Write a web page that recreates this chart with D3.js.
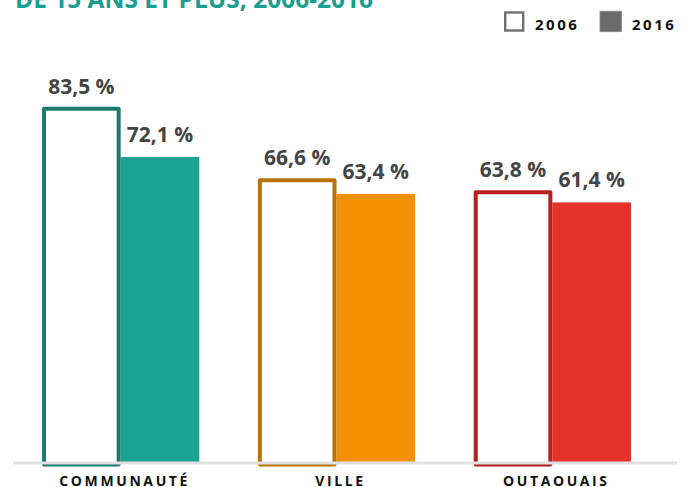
<!DOCTYPE html>
<html>
<head>
<meta charset="utf-8">
<script src="https://cdn.jsdelivr.net/npm/d3@7"></script>
<style>
  html, body { margin: 0; padding: 0; background: #ffffff; }
  svg { display: block; }
</style>
</head>
<body>
<svg id="chart" width="692" height="487"></svg>
<script>
// ---- Data ----
const titleText = "DE 15 ANS ET PLUS, 2006-2016";
const categories = ["COMMUNAUTÉ", "VILLE", "OUTAOUAIS"];
const series = ["2006", "2016"];
const values2006 = [83.5, 66.6, 63.8];
const values2016 = [72.1, 63.4, 61.4];

// ---- Styles ----
const fillColors = ["#1ba292", "#f29100", "#e5332a"];
const strokeColors = ["#1b7b70", "#b97206", "#b91e1e"];
const labelColor = "#444444";

const svg = d3.select("#chart");

const locale = d3.formatLocale({ decimal: ",", thousands: " ", grouping: [3], currency: ["", " $"] });
const fmt = v => locale.format(".1f")(v) + " %";

const y = d3.scaleLinear().domain([0, 100]).range([463, 38.6]);
const x0 = d3.scaleBand().domain(categories).range([12.75, 660.25])
  .paddingInner(0.2715).paddingOuter(0.1357);
const x1 = d3.scaleBand().domain(series).range([0, x0.bandwidth()]);

// Title (partially visible)
svg.append("text")
  .attr("x", 15).attr("y", 8)
  .attr("font-family", "Open Sans, sans-serif")
  .attr("font-weight", 700)
  .attr("font-size", 24.5)
  .attr("fill", "#1a9e8f")
  .text(titleText);

const rows = categories.map((c, i) => ({ cat: c, i, v2006: values2006[i], v2016: values2016[i] }));

const g = svg.append("g");

// Filled 2016 bars
g.selectAll("rect.b2016").data(rows).join("rect")
  .attr("class", "b2016")
  .attr("x", d => x0(d.cat) + x1("2016"))
  .attr("width", x1.bandwidth())
  .attr("y", d => y(d.v2016))
  .attr("height", d => y(0) - y(d.v2016))
  .attr("fill", d => fillColors[d.i]);

// Outlined 2006 bars
const sw = 4;
g.selectAll("rect.b2006").data(rows).join("rect")
  .attr("class", "b2006")
  .attr("x", d => x0(d.cat) + x1("2006") + sw / 2)
  .attr("width", x1.bandwidth() - sw)
  .attr("y", d => y(d.v2006))
  .attr("height", d => y(0) - y(d.v2006) + 1.5)
  .attr("fill", "#ffffff")
  .attr("stroke", d => strokeColors[d.i])
  .attr("stroke-width", sw)
  .attr("stroke-linejoin", "round");

// Baseline
svg.append("rect")
  .attr("x", 13).attr("y", 461.5)
  .attr("width", 664).attr("height", 3)
  .attr("fill", "#e1e1e1");

// Value labels
const labelFont = "Open Sans, sans-serif";
g.selectAll("text.l2006").data(rows).join("text")
  .attr("class", "l2006")
  .attr("x", d => x0(d.cat) + x1("2006") + x1.bandwidth() / 2)
  .attr("y", d => y(d.v2006) - 15)
  .attr("text-anchor", "middle")
  .attr("font-family", labelFont).attr("font-weight", 700).attr("font-size", 21)
  .attr("fill", labelColor)
  .text(d => fmt(d.v2006));

g.selectAll("text.l2016").data(rows).join("text")
  .attr("class", "l2016")
  .attr("x", d => x0(d.cat) + x1("2016") + x1.bandwidth() / 2)
  .attr("y", d => y(d.v2016) - 15)
  .attr("text-anchor", "middle")
  .attr("font-family", labelFont).attr("font-weight", 700).attr("font-size", 21)
  .attr("fill", labelColor)
  .text(d => fmt(d.v2016));

// Category axis
const axis = svg.append("g")
  .attr("transform", `translate(0,${y(0)})`)
  .call(d3.axisBottom(x0).tickSize(0));
axis.select(".domain").remove();
axis.selectAll("text")
  .attr("y", 22.5).attr("dy", 0)
  .attr("dx", 4)
  .attr("font-family", "Open Sans, sans-serif")
  .attr("font-weight", 700)
  .attr("font-size", 14)
  .attr("letter-spacing", 2.6)
  .attr("fill", "#111111");

// Legend
const legend = svg.append("g");
legend.append("rect")
  .attr("x", 505.2).attr("y", 12.5).attr("width", 18).attr("height", 18)
  .attr("fill", "#ffffff").attr("stroke", "#707070").attr("stroke-width", 2.4);
legend.append("rect")
  .attr("x", 600).attr("y", 11.2).attr("width", 21.5).attr("height", 20.5)
  .attr("fill", "#6b6b6b").attr("stroke", "#8a8a8a").attr("stroke-width", 0.8);
legend.selectAll("text").data(series).join("text")
  .attr("x", (d, i) => i === 0 ? 535 : 632)
  .attr("y", 30)
  .attr("font-family", "Open Sans, sans-serif")
  .attr("font-weight", 700)
  .attr("font-size", 15)
  .attr("letter-spacing", 2.5)
  .attr("fill", "#111111")
  .text(d => d);
</script>
</body>
</html>
